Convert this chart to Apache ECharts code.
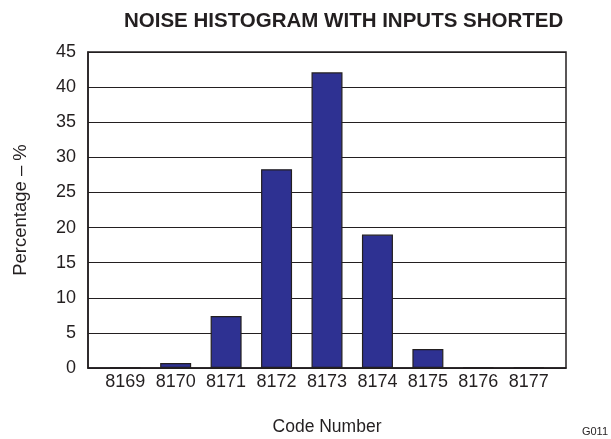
<!DOCTYPE html>
<html>
<head>
<meta charset="utf-8">
<script src="https://cdn.jsdelivr.net/npm/echarts@6/dist/echarts.min.js"></script>
<style>
  html, body { margin: 0; padding: 0; background: #fff; }
  #noise-histogram-chart { width: 611px; height: 439px; }
</style>
</head>
<body>
<div id="noise-histogram-chart"></div>
<script>
const codes = ['8169', '8170', '8171', '8172', '8173', '8174', '8175', '8176', '8177'];
const percentages = [0.1, 0.7, 7.4, 28.3, 42.1, 19.0, 2.7, 0.1, 0.1];
const yTicks = [0, 5, 10, 15, 20, 25, 30, 35, 40, 45];

const myChart = echarts.init(document.getElementById('noise-histogram-chart'));

const textColor = '#231f20';
const font = 'Liberation Sans, Arial, sans-serif';

const option = {
  animation: false,
  title: {
    text: 'NOISE HISTOGRAM WITH INPUTS SHORTED',
    left: 119,
    top: 6,
    textStyle: {
      fontFamily: font,
      fontSize: 20.5,
      fontWeight: 'bold',
      color: textColor
    }
  },
  graphic: [
    {
      type: 'text',
      right: 3,
      top: 426,
      style: { text: 'G011', fontFamily: font, fontSize: 11, fill: textColor }
    }
  ],
  // grid 0: frame, y scale and grid lines; grid 1: bars (inset a little from the frame)
  grid: [
    {
      left: 88,
      right: 45,
      top: 52,
      bottom: 71,
      outerBoundsMode: 'none',
      show: true,
      borderColor: textColor,
      borderWidth: 1.5
    },
    {
      left: 100,
      right: 57,
      top: 52,
      bottom: 71,
      outerBoundsMode: 'none'
    }
  ],
  xAxis: [
    {
      gridIndex: 0,
      type: 'category',
      data: codes,
      axisLine: { lineStyle: { color: textColor, width: 1.5 } },
      axisTick: { show: false },
      axisLabel: { show: false }
    },
    {
      gridIndex: 1,
      type: 'category',
      data: codes,
      name: 'Code Number',
      nameLocation: 'middle',
      nameGap: 50,
      nameTextStyle: { fontFamily: font, fontSize: 17.5, color: textColor },
      axisLine: { show: false },
      axisTick: { show: false },
      axisLabel: {
        interval: 0,
        hideOverlap: false,
        fontFamily: font,
        fontSize: 18,
        color: textColor,
        margin: 5
      }
    }
  ],
  yAxis: [
    {
      gridIndex: 0,
      type: 'value',
      min: 0,
      max: 45,
      interval: 5,
      name: 'Percentage – %',
      nameLocation: 'middle',
      nameGap: 58,
      nameTextStyle: { fontFamily: font, fontSize: 18.5, color: textColor },
      axisLine: { show: true, lineStyle: { color: textColor, width: 1.5 } },
      axisTick: { show: false },
      axisLabel: {
        fontFamily: font,
        fontSize: 18,
        color: textColor,
        margin: 12,
        formatter: (v) => (yTicks.indexOf(v) >= 0 ? String(v) : '')
      },
      splitLine: { lineStyle: { color: textColor, width: 1 } }
    },
    {
      gridIndex: 1,
      type: 'value',
      min: 0,
      max: 45,
      interval: 5,
      show: false
    }
  ],
  series: [
    {
      type: 'bar',
      xAxisIndex: 1,
      yAxisIndex: 1,
      data: percentages,
      barWidth: 31,
      itemStyle: {
        color: '#2e3192',
        borderColor: textColor,
        borderWidth: 1.2
      }
    }
  ]
};

myChart.setOption(option);
</script>
</body>
</html>
